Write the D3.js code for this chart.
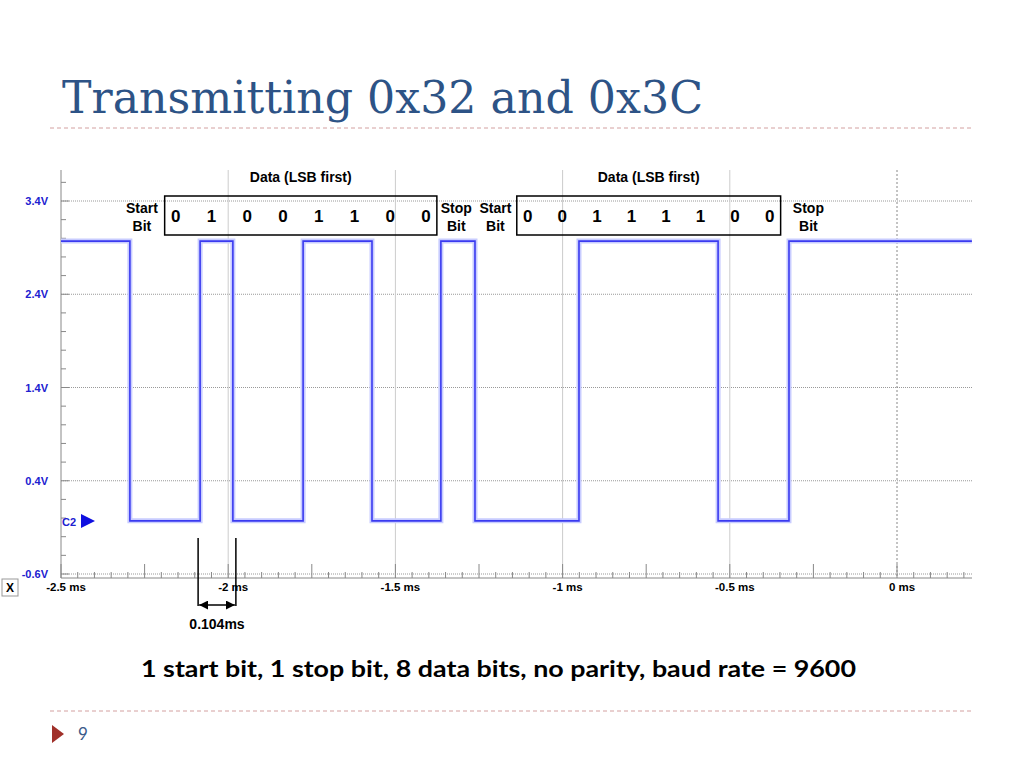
<!DOCTYPE html>
<html><head><meta charset="utf-8">
<script src="https://cdn.jsdelivr.net/npm/d3@7"></script>
<style>body{margin:0;background:#fff}</style></head>
<body><svg id="c" width="1024" height="768"></svg>
<script>
const voltTicks=[3.4,2.4,1.4,0.4,-0.6];
const timeTicks=[-2.5,-2,-1.5,-1,-0.5,0];
const timeLabels=["-2.5 ms","-2 ms","-1.5 ms","-1 ms","-0.5 ms","0 ms"];
// transition times (ms) and level after each transition (V)
const edgeTimes=[-2.5,-2.294,-2.084,-1.986,-1.776,-1.570,-1.364,-1.262,-0.951,-0.535,-0.323,0.224];
const edgeLevels=[2.97,-0.03,2.97,-0.03,2.97,-0.03,2.97,-0.03,2.97,-0.03,2.97,2.97];
const byte1Bits=["0","1","0","0","1","1","0","0"];
const byte2Bits=["0","0","1","1","1","1","0","0"];
const boxSpans=[[-2.19,-1.376],[-1.137,-0.348]];
const startLabelT=[-2.258,-1.201];
const stopLabelT=[-1.318,-0.265];
const bitTime=0.104;

const svg=d3.select("#c");
const x=d3.scaleLinear().domain([-2.5,0]).range([61,897]);
const y=d3.scaleLinear().domain([-0.6,3.4]).range([574,201]);
const X0=61,X1=972,Ytop=170,Ybot=578;
const F="Liberation Sans, Arial";

svg.append("text").attr("x",62).attr("y",113).attr("font-family","DejaVu Serif, serif").attr("font-size",44).attr("fill","#2d5386").attr("textLength",641).attr("lengthAdjust","spacingAndGlyphs").text("Transmitting 0x32 and 0x3C");
[128,711].forEach(yy=>svg.append("line").attr("x1",50).attr("x2",972).attr("y1",yy).attr("y2",yy).attr("stroke","#d3a0a0").attr("stroke-dasharray","4,3"));
svg.append("path").attr("d","M52,725 L64,734 L52,743Z").attr("fill","#a0302a");
svg.append("text").attr("x",78).attr("y",740).attr("font-family","Lato, sans-serif").attr("font-size",17).attr("fill","#3a5a8a").text("9");

const g=svg.append("g");
voltTicks.forEach(v=>g.append("line").attr("x1",X0).attr("x2",X1).attr("y1",y(v)).attr("y2",y(v)).attr("stroke","#999").attr("stroke-dasharray","1,1"));
timeTicks.slice(1).forEach(t=>g.append("line").attr("x1",x(t)).attr("x2",x(t)).attr("y1",Ytop).attr("y2",Ybot).attr("stroke",t===0?"#888":"#ccc").attr("stroke-dasharray",t===0?"2,2":null));
g.append("line").attr("x1",X0).attr("x2",X0).attr("y1",Ytop).attr("y2",Ybot).attr("stroke","#888");
d3.range(0,22).forEach(i=>{const v=-0.6+i*0.2;const big=i%5===0;
 g.append("line").attr("x1",X0).attr("x2",X0+(big?8:5)).attr("y1",y(v)).attr("y2",y(v)).attr("stroke","#888");});
voltTicks.forEach(v=>g.append("text").attr("x",48).attr("y",y(v)+4).attr("text-anchor","end").attr("font-family",F).attr("font-weight","bold").attr("font-size",11).attr("fill","#2020d0").text(v.toFixed(1)+"V"));
g.append("line").attr("x1",X0).attr("x2",X1).attr("y1",Ybot).attr("y2",Ybot).attr("stroke","#888");
d3.range(0,55).forEach(i=>{const t=-2.5+i*0.05;if(x(t)>X1)return;const big=i%5===0;
 g.append("line").attr("x1",x(t)).attr("x2",x(t)).attr("y1",Ybot).attr("y2",Ybot-(big?14:6)).attr("stroke","#888");});
timeTicks.forEach((t,i)=>g.append("text").attr("x",x(t)+5).attr("y",591).attr("text-anchor","middle").attr("font-family",F).attr("font-weight","bold").attr("font-size",11.5).text(timeLabels[i]));
g.append("rect").attr("x",2).attr("y",579).attr("width",16).attr("height",17).attr("fill","#fff").attr("stroke","#999");
g.append("text").attr("x",10).attr("y",592).attr("text-anchor","middle").attr("font-family",F).attr("font-weight","bold").attr("font-size",12).text("X");
g.append("text").attr("x",62).attr("y",526).attr("font-family",F).attr("font-weight","bold").attr("font-size",11).attr("fill","#2020d0").text("C2");
g.append("path").attr("d","M81,514 L95,521 L81,528Z").attr("fill","#1010e0");

const pts=[];
edgeTimes.forEach((t,i)=>{ if(i>0) pts.push([t,edgeLevels[i-1]]); pts.push([t,edgeLevels[i]]); });
const line=d3.line().x(d=>x(d[0])).y(d=>y(d[1]));
svg.append("path").attr("d",line(pts)).attr("fill","none").attr("stroke","#c8ccff").attr("stroke-width",5);
svg.append("path").attr("d",line(pts)).attr("fill","none").attr("stroke","#3a3af0").attr("stroke-width",1.6);

[byte1Bits,byte2Bits].forEach((bits,k)=>{
 const bx0=x(boxSpans[k][0]),bx1=x(boxSpans[k][1]);
 svg.append("rect").attr("x",bx0).attr("y",196).attr("width",bx1-bx0).attr("height",39).attr("fill","none").attr("stroke","#000").attr("stroke-width",1.5);
 svg.append("text").attr("x",(bx0+bx1)/2).attr("y",182).attr("text-anchor","middle").attr("font-family",F).attr("font-weight","bold").attr("font-size",14).text("Data (LSB first)");
 bits.forEach((b,i)=>svg.append("text").attr("x",bx0+11+i*(bx1-bx0-22)/7).attr("y",222).attr("text-anchor","middle").attr("font-family",F).attr("font-weight","bold").attr("font-size",17).text(b));
 [["Start",x(startLabelT[k])],["Stop",x(stopLabelT[k])]].forEach(([w,xx])=>{
  svg.append("text").attr("x",xx).attr("y",213).attr("text-anchor","middle").attr("font-family",F).attr("font-weight","bold").attr("font-size",14).text(w);
  svg.append("text").attr("x",xx).attr("y",231).attr("text-anchor","middle").attr("font-family",F).attr("font-weight","bold").attr("font-size",14).text("Bit");
 });
});

const m0=x(-2.084)-2,m1=x(-1.986)+3;
[m0,m1].forEach(xx=>svg.append("line").attr("x1",xx).attr("x2",xx).attr("y1",538).attr("y2",606).attr("stroke","#000").attr("stroke-width",1.5));
svg.append("defs").html('<marker id="a" viewBox="0 0 10 10" refX="10" refY="5" markerWidth="6" markerHeight="6" orient="auto-start-reverse"><path d="M0,0L10,5L0,10Z"/></marker>');
svg.append("line").attr("x1",m0+1).attr("x2",m1-1).attr("y1",605).attr("y2",605).attr("stroke","#000").attr("stroke-width",1.5).attr("marker-start","url(#a)").attr("marker-end","url(#a)");
svg.append("text").attr("x",(m0+m1)/2).attr("y",629).attr("text-anchor","middle").attr("font-family",F).attr("font-weight","bold").attr("font-size",14).text("0.104ms");

svg.append("text").attr("x",141).attr("y",677).attr("font-family","Lato, sans-serif").attr("font-weight","bold").attr("font-size",22).attr("textLength",715).attr("lengthAdjust","spacingAndGlyphs").text("1 start bit, 1 stop bit, 8 data bits,  no parity,  baud rate = 9600");
</script></body></html>
